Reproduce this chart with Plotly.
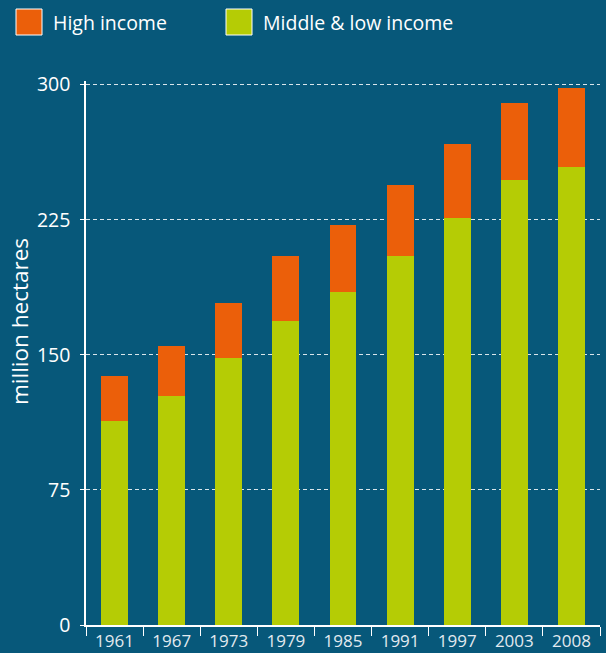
import plotly.graph_objects as go

years = ["1961", "1967", "1973", "1979", "1985", "1991", "1997", "2003", "2008"]
middle_low = [113, 127, 148, 169, 185, 205, 226, 247, 254]
high = [25, 28, 31, 36, 37, 39, 41, 43, 44]
y_ticks = [0, 75, 150, 225, 300]

BG = "#07587a"
ORANGE = "#eb5f0a"
GREEN = "#b5cc05"
FONT = "Open Sans"

W, H = 606, 653
L, R, T, B = 86, 6, 81, 28
pw, ph = W - L - R, H - T - B

def px(x):
    return (x - L) / pw

def py(y):
    return (H - B - y) / ph

fig = go.Figure()
fig.add_trace(go.Bar(x=years, y=middle_low, name="Middle & low income",
                     marker=dict(color=GREEN, line=dict(width=0)), width=0.47))
fig.add_trace(go.Bar(x=years, y=high, name="High income",
                     marker=dict(color=ORANGE, line=dict(width=0)), width=0.47))

shapes = []
annotations = []
for (x0, label, col) in [(16, "High income", ORANGE), (226, "Middle & low income", GREEN)]:
    shapes.append(dict(type="rect", xref="paper", yref="paper",
                       x0=px(x0), x1=px(x0 + 26), y0=py(35), y1=py(9),
                       fillcolor=col, line=dict(color="white", width=1)))
    annotations.append(dict(xref="paper", yref="paper", x=px(x0 + 35), y=py(22),
                            text=label, showarrow=False, xanchor="left", yanchor="middle",
                            font=dict(family=FONT, size=19.5, color="white")))

annotations.append(dict(xref="paper", yref="paper", x=px(19), y=py(322),
                        text="million hectares", showarrow=False, textangle=-90,
                        xanchor="center", yanchor="middle",
                        font=dict(family=FONT, size=22.5, color="white")))

fig.update_layout(
    width=W, height=H,
    margin=dict(l=L, r=R, t=T, b=B, autoexpand=False),
    paper_bgcolor=BG, plot_bgcolor=BG,
    barmode="stack", showlegend=False,
    shapes=shapes, annotations=annotations,
    font=dict(family=FONT, color="white"),
)
fig.update_xaxes(
    type="category", showgrid=False, showline=True, linecolor="white", linewidth=1.5,
    ticks="outside", tickson="boundaries", ticklen=9, tickcolor="white", tickwidth=1.2,
    tickfont=dict(family=FONT, size=17, color="#e2eaf0"), automargin=False,
)
fig.update_yaxes(
    range=[0, 302], tickvals=y_ticks, showline=True, linecolor="white", linewidth=1.5,
    ticks="outside", ticklen=4, tickcolor="white", ticklabelstandoff=6,
    showgrid=True, gridcolor="rgba(255,255,255,0.85)", gridwidth=1, griddash="4px,3px",
    zeroline=False, automargin=False,
    tickfont=dict(family=FONT, size=19.5, color="white"),
)

fig.write_html("out.html", config={"displayModeBar": False}, post_script=(
    "document.body.style.margin='0';document.body.style.padding='0';"
    f"document.body.style.background='{BG}';"
))
